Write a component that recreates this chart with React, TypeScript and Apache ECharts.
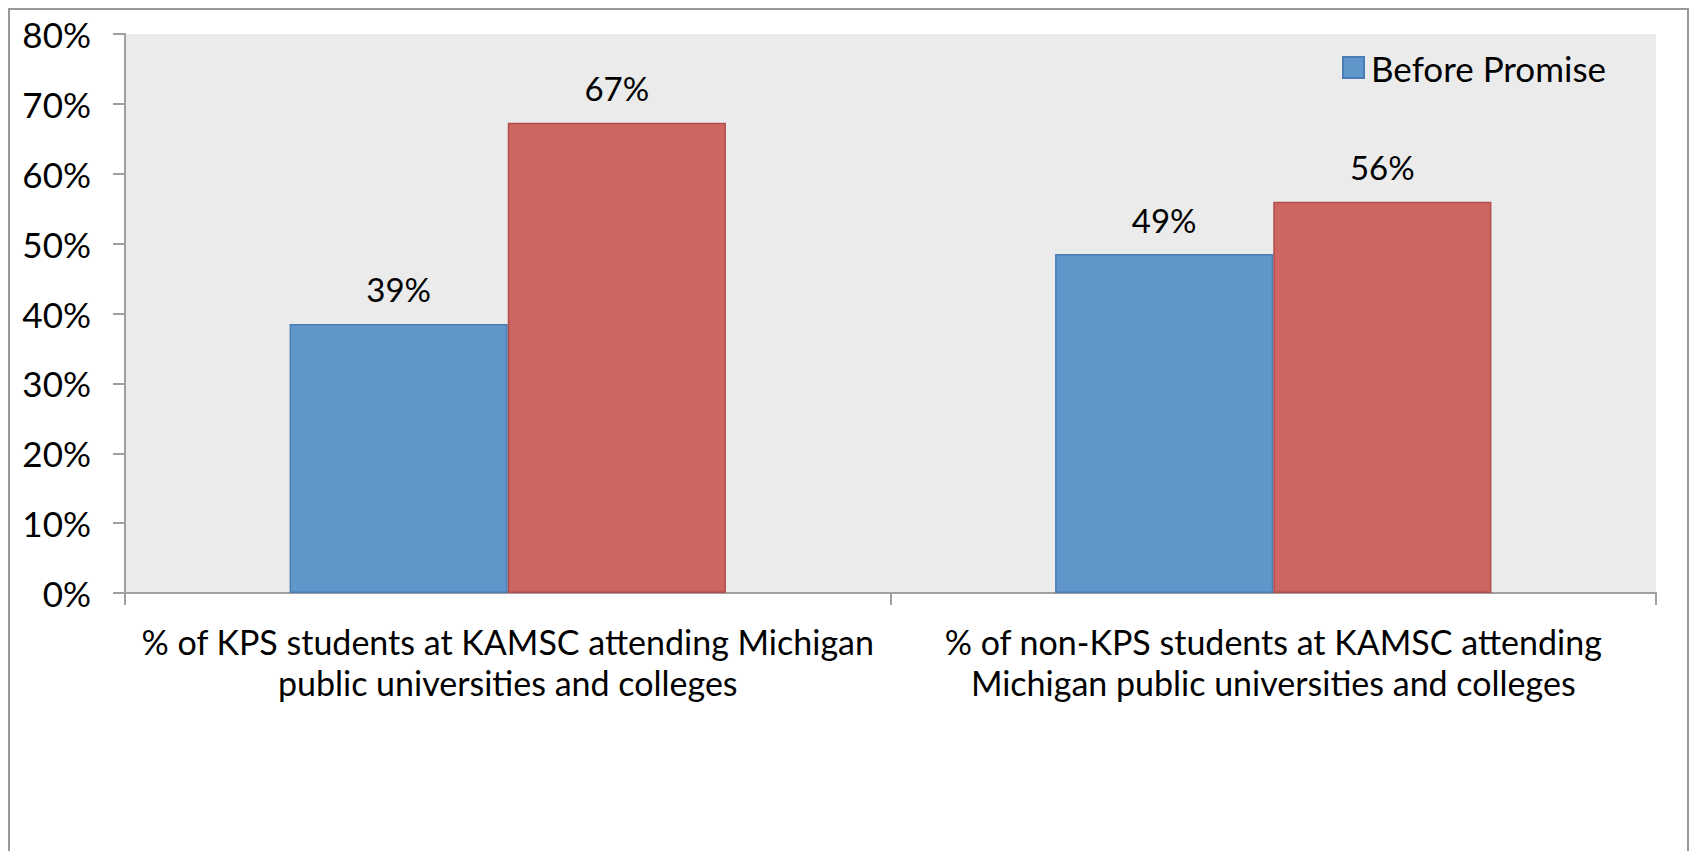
import React, { useEffect, useRef } from "react";
import * as echarts from "echarts";

// Share of KAMSC students attending Michigan public universities and colleges
const categories = [
  "% of KPS students at KAMSC attending Michigan\npublic universities and colleges",
  "% of non-KPS students at KAMSC attending\nMichigan public universities and colleges",
];
const seriesNames = ["Before Promise", "After Promise"];
const beforePromise = [38.5, 48.5];
const afterPromise = [67.3, 56.0];
const yTicks = { min: 0, max: 80, interval: 10 };

const FONT = "Lato, 'Noto Sans', sans-serif";

export default function App() {
  const ref = useRef<HTMLDivElement>(null);

  useEffect(() => {
    if (!ref.current) return;
    const chart = echarts.init(ref.current, undefined, { renderer: "svg" });

    const labelStyle = {
      show: true,
      position: "top" as const,
      distance: 18,
      fontFamily: FONT,
      fontSize: 33,
      color: "#000",
      formatter: (p: any) => `${Math.round(p.value)}%`,
    };

    chart.setOption({
      animation: false,
      backgroundColor: "#fff",
      textStyle: { fontFamily: FONT },
      grid: {
        left: 115,
        top: 24,
        width: 1531,
        height: 559,
        show: true,
        backgroundColor: "#EBEBEB",
        borderWidth: 0,
      },
      legend: {
        data: [seriesNames[0]],
        left: 1332,
        top: 40,
        padding: 0,
        itemWidth: 21,
        itemHeight: 21,
        icon: "rect",
        textStyle: {
          fontFamily: FONT,
          fontSize: 35,
          color: "#000",
          padding: [0, 0, 0, 2],
        },
      },
      xAxis: {
        type: "category",
        data: categories,
        boundaryGap: true,
        axisLine: { show: true, lineStyle: { color: "#A0A0A0", width: 2 } },
        axisTick: {
          show: true,
          alignWithLabel: false,
          length: 12,
          lineStyle: { color: "#A0A0A0", width: 2 },
        },
        axisLabel: {
          interval: 0,
          margin: 28,
          fontFamily: FONT,
          fontSize: 34,
          lineHeight: 41,
          color: "#000",
          align: "center",
        },
        splitLine: { show: false },
      },
      yAxis: {
        type: "value",
        min: yTicks.min,
        max: yTicks.max,
        interval: yTicks.interval,
        axisLine: { show: true, lineStyle: { color: "#A0A0A0", width: 2 } },
        axisTick: {
          show: true,
          inside: false,
          length: 12,
          lineStyle: { color: "#A0A0A0", width: 2 },
        },
        axisLabel: {
          margin: 34,
          fontFamily: FONT,
          fontSize: 35,
          color: "#000",
          formatter: "{value}%",
        },
        splitLine: { show: false },
      },
      series: [
        {
          name: seriesNames[0],
          type: "bar",
          data: beforePromise,
          barGap: "0%",
          barCategoryGap: "43%",
          itemStyle: { color: "#6096CA", borderColor: "#4A7CB5", borderWidth: 1.5 },
          label: labelStyle,
        },
        {
          name: seriesNames[1],
          type: "bar",
          data: afterPromise,
          barGap: "0%",
          barCategoryGap: "43%",
          itemStyle: { color: "#CD6660", borderColor: "#B04E4A", borderWidth: 1.5 },
          label: labelStyle,
        },
      ],
    });

    return () => chart.dispose();
  }, []);

  return (
    <div
      style={{
        position: "fixed",
        left: 8,
        top: 8,
        width: 1681,
        height: 860,
        boxSizing: "border-box",
        borderTop: "2px solid #999",
        borderLeft: "2px solid #999",
        borderRight: "2px solid #999",
        background: "#fff",
      }}
    >
      <div ref={ref} style={{ width: 1677, height: 858 }} />
    </div>
  );
}
